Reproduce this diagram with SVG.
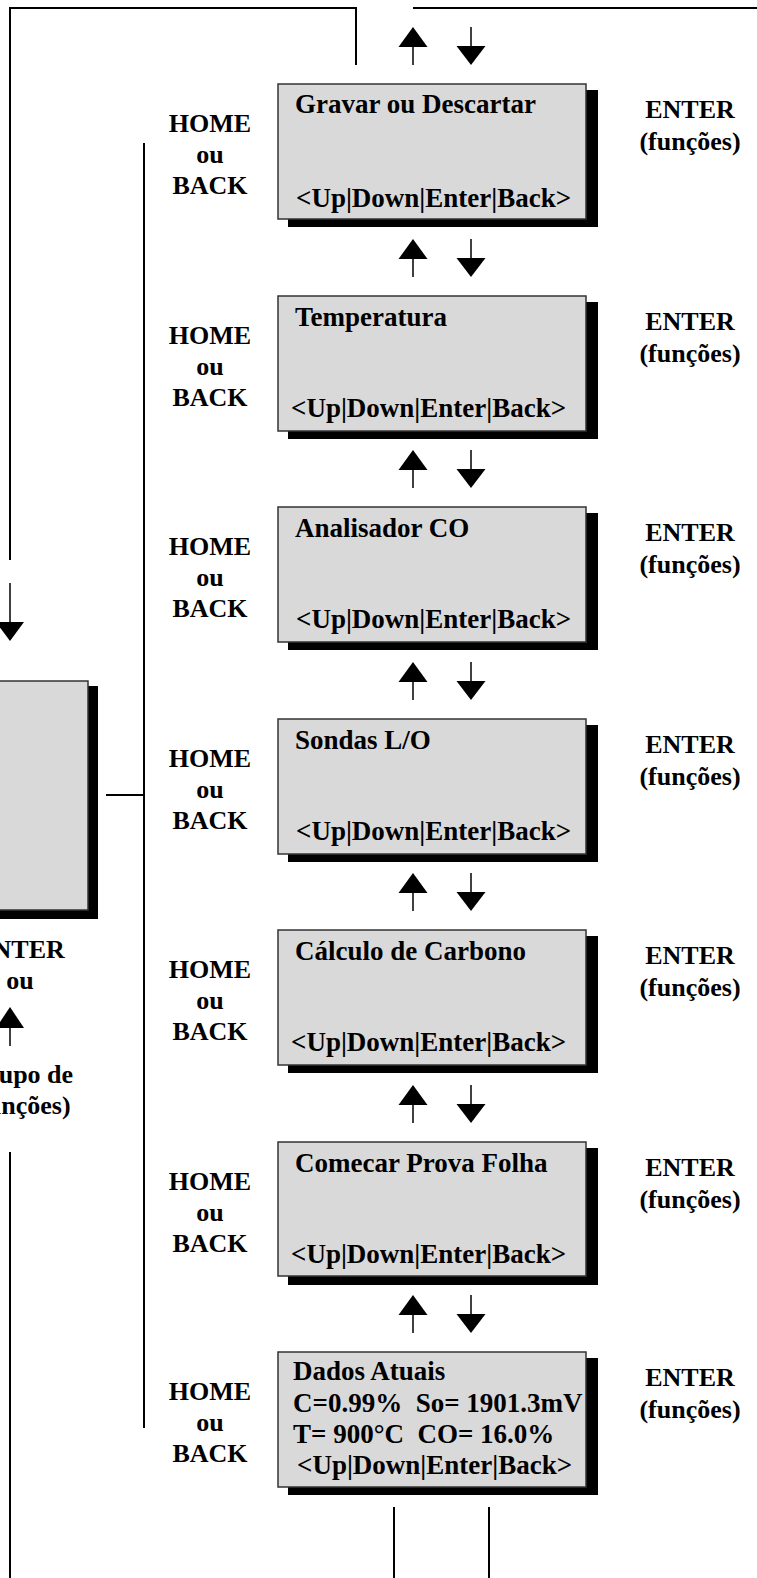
<svg xmlns="http://www.w3.org/2000/svg" xmlns:xlink="http://www.w3.org/1999/xlink" width="757" height="1578" viewBox="0 0 757 1578">
<style>
.t{font-family:"Liberation Serif","Times New Roman",serif;font-weight:bold;font-size:26px;fill:#000}
.b{font-size:27px}
.c{text-anchor:middle}
.pre{white-space:pre}
.box{fill:#d9d9d9;stroke:#333;stroke-width:1.5}
.sh{fill:#000}
.ln{stroke:#000;stroke-width:2;fill:none}
.sf{stroke:#000;stroke-width:1.5;fill:none}
</style>
<defs>
<g id="arrows">
<line class="sf" x1="413" y1="-19" x2="413" y2="-38"/>
<polygon points="398.5,-37 427.5,-37 413,-57"/>
<line class="sf" x1="471" y1="-57" x2="471" y2="-38"/>
<polygon points="456.5,-38 485.5,-38 471,-19"/>
</g>
<g id="hb">
<text class="t c" x="210" y="48">HOME</text>
<text class="t c" x="210" y="79">ou</text>
<text class="t c" x="210" y="110">BACK</text>
<text class="t c" x="690" y="34">ENTER</text>
<text class="t c" x="690" y="66">(funções)</text>
</g>
</defs>
<g id="connectors">
<polyline class="ln" points="10,560 10,8 356,8 356,65"/>
<polyline class="ln" points="413,8 757,8"/>
<line class="ln" x1="144" y1="143" x2="144" y2="1428"/>
<line class="ln" x1="106" y1="795" x2="144" y2="795"/>
<line class="ln" x1="10" y1="1152" x2="10" y2="1578"/>
<line class="ln" x1="394" y1="1507" x2="394" y2="1578"/>
<line class="ln" x1="489" y1="1507" x2="489" y2="1578"/>
<line class="sf" x1="10" y1="583" x2="10" y2="623"/>
<polygon points="-4,622 24,622 10,641"/>
<line class="sf" x1="10" y1="1046" x2="10" y2="1027"/>
<polygon points="-4,1028 24,1028 10,1007"/>
<use xlink:href="#arrows" transform="translate(0,84)"/>
<use xlink:href="#arrows" transform="translate(0,296)"/>
<use xlink:href="#arrows" transform="translate(0,507)"/>
<use xlink:href="#arrows" transform="translate(0,719)"/>
<use xlink:href="#arrows" transform="translate(0,930)"/>
<use xlink:href="#arrows" transform="translate(0,1142)"/>
<use xlink:href="#arrows" transform="translate(0,1352)"/>
</g>
<g id="node-main">
<rect class="sh" x="-10" y="686" width="108" height="233"/>
<rect class="box" x="-12" y="681" width="100" height="229"/>
<text class="t c" x="20" y="958">ENTER</text>
<text class="t c" x="20" y="989">ou</text>
<text class="t c" x="20" y="1083">Grupo de</text>
<text class="t c" x="20" y="1114">(funções)</text>
</g>
<g id="node-gravar" transform="translate(0,84)">
<rect class="sh" x="288" y="6" width="310" height="137"/>
<rect class="box" x="278" y="0" width="308" height="135"/>
<text class="t b" x="295" y="29">Gravar ou Descartar</text>
<text class="t b" x="296" y="123">&lt;Up|Down|Enter|Back&gt;</text>
<use xlink:href="#hb"/>
</g>
<g id="node-temperatura" transform="translate(0,296)">
<rect class="sh" x="288" y="6" width="310" height="137"/>
<rect class="box" x="278" y="0" width="308" height="135"/>
<text class="t b" x="295" y="30">Temperatura</text>
<text class="t b" x="291" y="121">&lt;Up|Down|Enter|Back&gt;</text>
<use xlink:href="#hb"/>
</g>
<g id="node-co" transform="translate(0,507)">
<rect class="sh" x="288" y="6" width="310" height="137"/>
<rect class="box" x="278" y="0" width="308" height="135"/>
<text class="t b" x="295" y="30">Analisador CO</text>
<text class="t b" x="296" y="121">&lt;Up|Down|Enter|Back&gt;</text>
<use xlink:href="#hb"/>
</g>
<g id="node-sondas" transform="translate(0,719)">
<rect class="sh" x="288" y="6" width="310" height="137"/>
<rect class="box" x="278" y="0" width="308" height="135"/>
<text class="t b" x="295" y="30">Sondas L/O</text>
<text class="t b" x="296" y="121">&lt;Up|Down|Enter|Back&gt;</text>
<use xlink:href="#hb"/>
</g>
<g id="node-carbono" transform="translate(0,930)">
<rect class="sh" x="288" y="6" width="310" height="137"/>
<rect class="box" x="278" y="0" width="308" height="135"/>
<text class="t b" x="295" y="30">Cálculo de Carbono</text>
<text class="t b" x="291" y="121">&lt;Up|Down|Enter|Back&gt;</text>
<use xlink:href="#hb"/>
</g>
<g id="node-prova" transform="translate(0,1142)">
<rect class="sh" x="288" y="6" width="310" height="137"/>
<rect class="box" x="278" y="0" width="308" height="134"/>
<text class="t b" x="295" y="30">Comecar Prova Folha</text>
<text class="t b" x="291" y="121">&lt;Up|Down|Enter|Back&gt;</text>
<use xlink:href="#hb"/>
</g>
<g id="node-dados" transform="translate(0,1352)">
<rect class="sh" x="288" y="6" width="310" height="137"/>
<rect class="box" x="278" y="0" width="308" height="135"/>
<text class="t b" x="293" y="28">Dados Atuais</text>
<text class="t b pre" x="293" y="60">C=0.99%  So= 1901.3mV</text>
<text class="t b pre" x="293" y="91">T= 900°C  CO= 16.0%</text>
<text class="t b" x="297" y="122">&lt;Up|Down|Enter|Back&gt;</text>
<use xlink:href="#hb"/>
</g>
</svg>
